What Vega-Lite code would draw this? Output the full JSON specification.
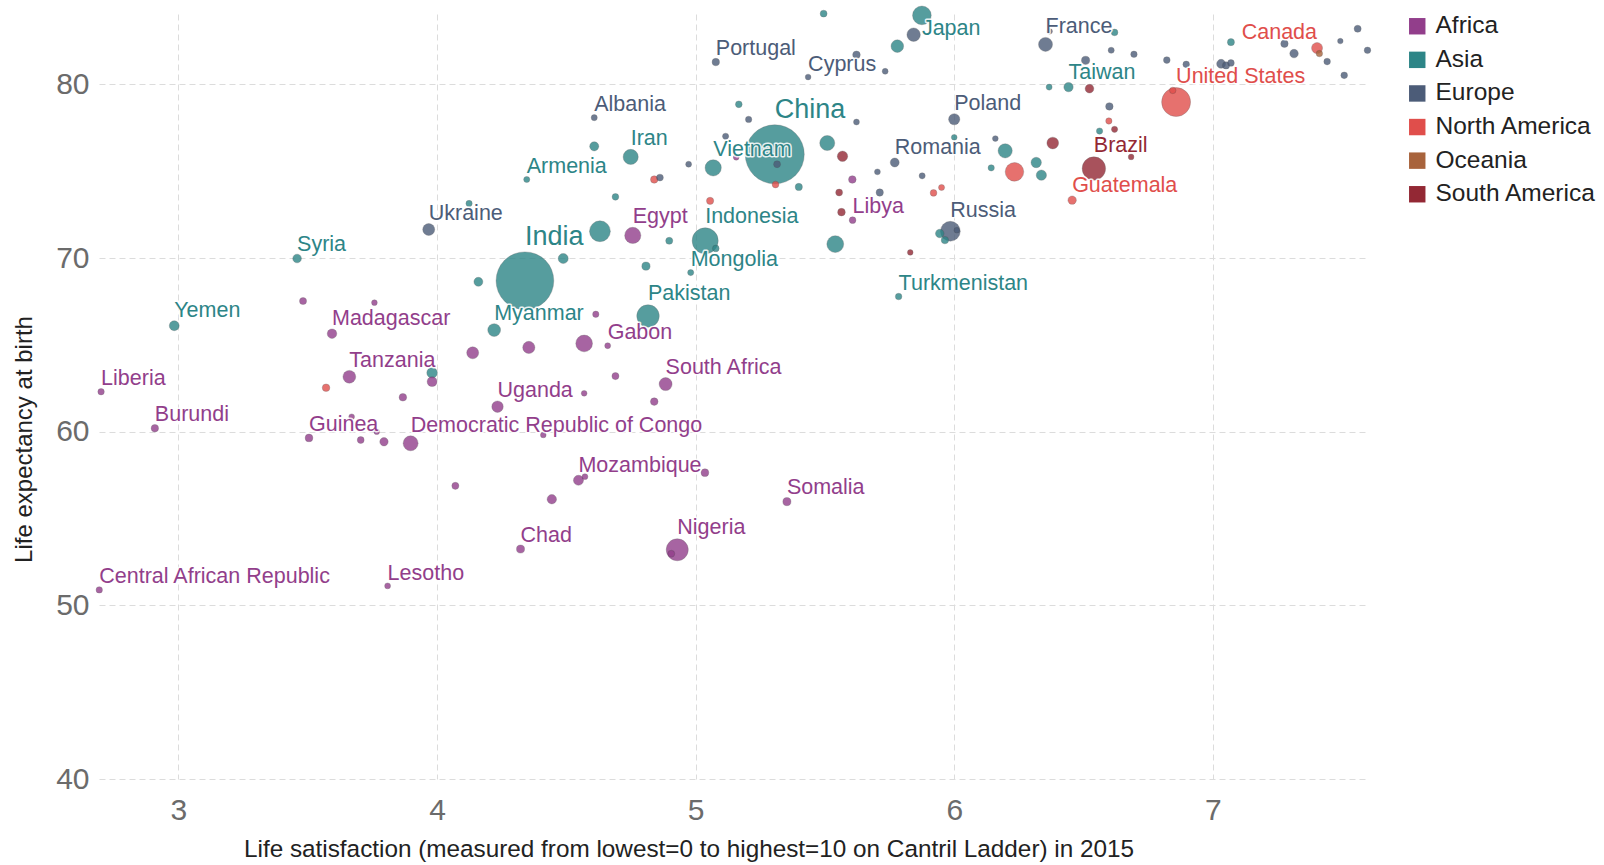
{
  "$schema": "https://vega.github.io/schema/vega-lite/v6.json",
  "width": 1269,
  "height": 765,
  "autosize": {"type": "none"},
  "padding": {"left": 99, "top": 14, "right": 236, "bottom": 86},
  "background": "white",
  "config": {"font": "Liberation Sans", "view": {"stroke": null}},
  "data": {"values": [
    {"country": "Central African Republic", "continent": "Africa", "ls": 2.694, "le": 50.89, "population": 4.5, "label": "Central African Republic"},
    {"country": "Liberia", "continent": "Africa", "ls": 2.701, "le": 62.30, "population": 4.5, "label": "Liberia"},
    {"country": "Burundi", "continent": "Africa", "ls": 2.909, "le": 60.20, "population": 10, "label": "Burundi"},
    {"country": "Guinea", "continent": "Africa", "ls": 3.505, "le": 59.64, "population": 12, "label": "Guinea"},
    {"country": "Madagascar", "continent": "Africa", "ls": 3.594, "le": 65.64, "population": 24, "label": "Madagascar"},
    {"country": "Tanzania", "continent": "Africa", "ls": 3.661, "le": 63.16, "population": 53, "label": "Tanzania"},
    {"country": "Democratic Republic of Congo", "continent": "Africa", "ls": 3.898, "le": 59.33, "population": 77, "label": "Democratic Republic of Congo"},
    {"country": "Lesotho", "continent": "Africa", "ls": 3.809, "le": 51.12, "population": 2, "label": "Lesotho"},
    {"country": "Chad", "continent": "Africa", "ls": 4.323, "le": 53.24, "population": 14, "label": "Chad"},
    {"country": "Uganda", "continent": "Africa", "ls": 4.234, "le": 61.44, "population": 40, "label": "Uganda"},
    {"country": "Mozambique", "continent": "Africa", "ls": 4.547, "le": 57.20, "population": 28, "label": "Mozambique"},
    {"country": "Gabon", "continent": "Africa", "ls": 4.66, "le": 64.95, "population": 2, "label": "Gabon"},
    {"country": "Egypt", "continent": "Africa", "ls": 4.757, "le": 71.30, "population": 92, "label": "Egypt"},
    {"country": "South Africa", "continent": "Africa", "ls": 4.884, "le": 62.74, "population": 55, "label": "South Africa"},
    {"country": "Nigeria", "continent": "Africa", "ls": 4.929, "le": 53.20, "population": 181, "label": "Nigeria"},
    {"country": "Somalia", "continent": "Africa", "ls": 5.353, "le": 55.97, "population": 14, "label": "Somalia"},
    {"country": "Libya", "continent": "Africa", "ls": 5.607, "le": 72.18, "population": 6, "label": "Libya"},
    {"country": "Togo", "continent": "Africa", "ls": 3.482, "le": 67.52, "population": 8},
    {"country": "Comoros", "continent": "Africa", "ls": 3.758, "le": 67.43, "population": 1},
    {"country": "Sudan", "continent": "Africa", "ls": 4.138, "le": 64.54, "population": 45},
    {"country": "Kenya", "continent": "Africa", "ls": 4.355, "le": 64.85, "population": 47},
    {"country": "Ethiopia", "continent": "Africa", "ls": 4.569, "le": 65.08, "population": 99},
    {"country": "Mauritania", "continent": "Africa", "ls": 4.614, "le": 66.76, "population": 4},
    {"country": "Ghana", "continent": "Africa", "ls": 3.981, "le": 62.88, "population": 27},
    {"country": "Benin", "continent": "Africa", "ls": 3.868, "le": 61.98, "population": 11},
    {"country": "Sierra Leone", "continent": "Africa", "ls": 3.705, "le": 59.52, "population": 7},
    {"country": "Zambia", "continent": "Africa", "ls": 3.795, "le": 59.42, "population": 16},
    {"country": "Mali", "continent": "Africa", "ls": 4.071, "le": 56.88, "population": 8},
    {"country": "Cameroon", "continent": "Africa", "ls": 4.444, "le": 56.11, "population": 23},
    {"country": "Senegal", "continent": "Africa", "ls": 4.69, "le": 63.20, "population": 8},
    {"country": "Djibouti", "continent": "Africa", "ls": 4.569, "le": 62.21, "population": 1},
    {"country": "Zimbabwe", "continent": "Africa", "ls": 4.84, "le": 61.73, "population": 11},
    {"country": "Niger", "continent": "Africa", "ls": 5.036, "le": 57.64, "population": 12},
    {"country": "Botswana", "continent": "Africa", "ls": 4.572, "le": 57.41, "population": 2},
    {"country": "Guinea-Bissau", "continent": "Africa", "ls": 4.906, "le": 52.97, "population": 7},
    {"country": "Mauritius", "continent": "Africa", "ls": 5.157, "le": 75.80, "population": 1.3},
    {"country": "Congo", "continent": "Africa", "ls": 4.411, "le": 59.81, "population": 1},
    {"country": "Rwanda", "continent": "Africa", "ls": 3.67, "le": 60.86, "population": 1},
    {"country": "Burkina Faso", "continent": "Africa", "ls": 3.767, "le": 60.0, "population": 1},
    {"country": "Tunisia", "continent": "Africa", "ls": 5.606, "le": 74.52, "population": 11},
    {"country": "Yemen", "continent": "Asia", "ls": 2.984, "le": 66.10, "population": 27, "label": "Yemen"},
    {"country": "Syria", "continent": "Asia", "ls": 3.459, "le": 69.97, "population": 18, "label": "Syria"},
    {"country": "Armenia", "continent": "Asia", "ls": 4.347, "le": 74.52, "population": 3, "label": "Armenia"},
    {"country": "India", "continent": "Asia", "ls": 4.34, "le": 68.69, "population": 1311, "label": "India"},
    {"country": "Myanmar", "continent": "Asia", "ls": 4.221, "le": 65.85, "population": 53, "label": "Myanmar"},
    {"country": "Pakistan", "continent": "Asia", "ls": 4.816, "le": 66.66, "population": 189, "label": "Pakistan"},
    {"country": "Iran", "continent": "Asia", "ls": 4.749, "le": 75.82, "population": 79, "label": "Iran"},
    {"country": "Indonesia", "continent": "Asia", "ls": 5.037, "le": 70.99, "population": 258, "label": "Indonesia"},
    {"country": "Mongolia", "continent": "Asia", "ls": 4.981, "le": 69.16, "population": 3, "label": "Mongolia"},
    {"country": "Vietnam", "continent": "Asia", "ls": 5.068, "le": 75.19, "population": 93, "label": "Vietnam"},
    {"country": "China", "continent": "Asia", "ls": 5.306, "le": 75.97, "population": 1371, "label": "China"},
    {"country": "Japan", "continent": "Asia", "ls": 5.875, "le": 83.97, "population": 127, "label": "Japan"},
    {"country": "Taiwan", "continent": "Asia", "ls": 6.442, "le": 79.84, "population": 23, "label": "Taiwan"},
    {"country": "Turkmenistan", "continent": "Asia", "ls": 5.785, "le": 67.78, "population": 5, "label": "Turkmenistan"},
    {"country": "Hong Kong", "continent": "Asia", "ls": 5.495, "le": 84.07, "population": 7},
    {"country": "South Korea", "continent": "Asia", "ls": 5.78, "le": 82.20, "population": 51},
    {"country": "Singapore", "continent": "Asia", "ls": 6.62, "le": 82.99, "population": 5.6},
    {"country": "Israel", "continent": "Asia", "ls": 7.07, "le": 82.43, "population": 8},
    {"country": "Qatar", "continent": "Asia", "ls": 6.367, "le": 79.84, "population": 2.5},
    {"country": "Kuwait", "continent": "Asia", "ls": 6.562, "le": 77.31, "population": 4},
    {"country": "Thailand", "continent": "Asia", "ls": 6.197, "le": 76.17, "population": 68},
    {"country": "Oman", "continent": "Asia", "ls": 6.143, "le": 75.19, "population": 4},
    {"country": "Bahrain", "continent": "Asia", "ls": 6.0, "le": 76.95, "population": 1.4},
    {"country": "Malaysia", "continent": "Asia", "ls": 6.317, "le": 75.50, "population": 31},
    {"country": "Uzbekistan", "continent": "Asia", "ls": 6.337, "le": 74.77, "population": 30},
    {"country": "Kazakhstan", "continent": "Asia", "ls": 5.944, "le": 71.41, "population": 17},
    {"country": "Azerbaijan", "continent": "Asia", "ls": 5.964, "le": 71.03, "population": 10},
    {"country": "Philippines", "continent": "Asia", "ls": 5.54, "le": 70.80, "population": 101},
    {"country": "Turkey", "continent": "Asia", "ls": 5.509, "le": 76.62, "population": 78},
    {"country": "Jordan", "continent": "Asia", "ls": 5.399, "le": 74.09, "population": 9},
    {"country": "Lebanon", "continent": "Asia", "ls": 5.167, "le": 78.85, "population": 6},
    {"country": "Sri Lanka", "continent": "Asia", "ls": 4.608, "le": 76.43, "population": 21},
    {"country": "Kyrgyzstan", "continent": "Asia", "ls": 4.69, "le": 73.52, "population": 6},
    {"country": "Bangladesh", "continent": "Asia", "ls": 4.63, "le": 71.54, "population": 161},
    {"country": "Tajikistan", "continent": "Asia", "ls": 4.898, "le": 70.99, "population": 8},
    {"country": "Nepal", "continent": "Asia", "ls": 4.488, "le": 69.97, "population": 28},
    {"country": "Cambodia", "continent": "Asia", "ls": 4.808, "le": 69.53, "population": 15},
    {"country": "Iraq", "continent": "Asia", "ls": 4.16, "le": 68.63, "population": 20},
    {"country": "Georgia", "continent": "Asia", "ls": 4.124, "le": 73.14, "population": 3.7},
    {"country": "Afghanistan", "continent": "Asia", "ls": 3.981, "le": 63.39, "population": 33},
    {"country": "Laos", "continent": "Asia", "ls": 5.078, "le": 70.55, "population": 6},
    {"country": "Ukraine", "continent": "Europe", "ls": 3.968, "le": 71.64, "population": 45, "label": "Ukraine"},
    {"country": "Albania", "continent": "Europe", "ls": 4.608, "le": 78.08, "population": 2.9, "label": "Albania"},
    {"country": "Portugal", "continent": "Europe", "ls": 5.078, "le": 81.28, "population": 10.4, "label": "Portugal"},
    {"country": "Cyprus", "continent": "Europe", "ls": 5.435, "le": 80.42, "population": 1.2, "label": "Cyprus"},
    {"country": "France", "continent": "Europe", "ls": 6.353, "le": 82.30, "population": 66, "label": "France"},
    {"country": "Poland", "continent": "Europe", "ls": 6.0, "le": 77.99, "population": 38, "label": "Poland"},
    {"country": "Romania", "continent": "Europe", "ls": 5.77, "le": 75.50, "population": 20, "label": "Romania"},
    {"country": "Russia", "continent": "Europe", "ls": 5.985, "le": 71.54, "population": 144, "label": "Russia"},
    {"country": "Italy", "continent": "Europe", "ls": 5.843, "le": 82.86, "population": 60},
    {"country": "Greece", "continent": "Europe", "ls": 5.622, "le": 81.70, "population": 11},
    {"country": "Slovenia", "continent": "Europe", "ls": 5.733, "le": 80.75, "population": 2},
    {"country": "Malta", "continent": "Europe", "ls": 6.369, "le": 83.05, "population": 0.4},
    {"country": "Luxembourg", "continent": "Europe", "ls": 6.607, "le": 81.96, "population": 3},
    {"country": "Ireland", "continent": "Europe", "ls": 6.695, "le": 81.73, "population": 4.7},
    {"country": "United Kingdom", "continent": "Europe", "ls": 6.822, "le": 81.40, "population": 6},
    {"country": "Slovakia", "continent": "Europe", "ls": 6.897, "le": 81.15, "population": 5.4},
    {"country": "Spain", "continent": "Europe", "ls": 6.508, "le": 81.38, "population": 15},
    {"country": "Germany", "continent": "Europe", "ls": 7.032, "le": 81.18, "population": 20},
    {"country": "Austria", "continent": "Europe", "ls": 7.051, "le": 81.09, "population": 9},
    {"country": "Belgium", "continent": "Europe", "ls": 7.07, "le": 81.23, "population": 6},
    {"country": "Sweden", "continent": "Europe", "ls": 7.277, "le": 82.34, "population": 10},
    {"country": "Netherlands", "continent": "Europe", "ls": 7.314, "le": 81.77, "population": 17},
    {"country": "Finland", "continent": "Europe", "ls": 7.442, "le": 81.31, "population": 5.5},
    {"country": "Iceland", "continent": "Europe", "ls": 7.493, "le": 82.49, "population": 0.3},
    {"country": "Switzerland", "continent": "Europe", "ls": 7.56, "le": 83.20, "population": 8},
    {"country": "Norway", "continent": "Europe", "ls": 7.598, "le": 81.96, "population": 5.2},
    {"country": "Denmark", "continent": "Europe", "ls": 7.508, "le": 80.52, "population": 5.7},
    {"country": "Czech Republic", "continent": "Europe", "ls": 6.60, "le": 78.73, "population": 10.5},
    {"country": "Estonia", "continent": "Europe", "ls": 6.159, "le": 76.88, "population": 1.3},
    {"country": "Croatia", "continent": "Europe", "ls": 5.205, "le": 77.98, "population": 4.2},
    {"country": "Montenegro", "continent": "Europe", "ls": 5.622, "le": 77.83, "population": 2},
    {"country": "Bosnia and Herzegovina", "continent": "Europe", "ls": 5.116, "le": 77.01, "population": 3.5},
    {"country": "Macedonia", "continent": "Europe", "ls": 4.973, "le": 75.40, "population": 2},
    {"country": "Bulgaria", "continent": "Europe", "ls": 4.862, "le": 74.63, "population": 7},
    {"country": "Serbia", "continent": "Europe", "ls": 5.315, "le": 75.40, "population": 7},
    {"country": "Latvia", "continent": "Europe", "ls": 5.703, "le": 74.96, "population": 2},
    {"country": "Lithuania", "continent": "Europe", "ls": 5.876, "le": 74.73, "population": 3},
    {"country": "Belarus", "continent": "Europe", "ls": 5.712, "le": 73.77, "population": 9.5},
    {"country": "Moldova", "continent": "Europe", "ls": 6.01, "le": 71.60, "population": 1},
    {"country": "Canada", "continent": "North America", "ls": 7.403, "le": 82.09, "population": 36, "label": "Canada"},
    {"country": "United States", "continent": "North America", "ls": 6.858, "le": 78.98, "population": 321, "label": "United States"},
    {"country": "Guatemala", "continent": "North America", "ls": 6.456, "le": 73.33, "population": 16, "label": "Guatemala"},
    {"country": "Mexico", "continent": "North America", "ls": 6.233, "le": 74.96, "population": 125},
    {"country": "Costa Rica", "continent": "North America", "ls": 6.845, "le": 79.65, "population": 4.8},
    {"country": "Panama", "continent": "North America", "ls": 6.598, "le": 77.89, "population": 4},
    {"country": "Nicaragua", "continent": "North America", "ls": 5.92, "le": 73.75, "population": 6},
    {"country": "Jamaica", "continent": "North America", "ls": 5.951, "le": 74.06, "population": 2.8},
    {"country": "Honduras", "continent": "North America", "ls": 5.056, "le": 73.29, "population": 9},
    {"country": "Dominican Republic", "continent": "North America", "ls": 4.84, "le": 74.52, "population": 10},
    {"country": "El Salvador", "continent": "North America", "ls": 5.309, "le": 74.23, "population": 6.3},
    {"country": "Haiti", "continent": "North America", "ls": 3.571, "le": 62.53, "population": 11},
    {"country": "Brazil", "continent": "South America", "ls": 6.54, "le": 75.15, "population": 206, "label": "Brazil"},
    {"country": "Chile", "continent": "South America", "ls": 6.523, "le": 79.75, "population": 18},
    {"country": "Uruguay", "continent": "South America", "ls": 6.62, "le": 77.41, "population": 3.4},
    {"country": "Argentina", "continent": "South America", "ls": 6.381, "le": 76.62, "population": 43},
    {"country": "Peru", "continent": "South America", "ls": 5.568, "le": 75.86, "population": 31},
    {"country": "Paraguay", "continent": "South America", "ls": 5.555, "le": 73.77, "population": 7},
    {"country": "Bolivia", "continent": "South America", "ls": 5.564, "le": 72.64, "population": 11},
    {"country": "Guyana", "continent": "South America", "ls": 5.83, "le": 70.32, "population": 0.8},
    {"country": "Suriname", "continent": "South America", "ls": 6.684, "le": 75.82, "population": 1},
    {"country": "New Zealand", "continent": "Oceania", "ls": 7.412, "le": 81.77, "population": 4.6}
  ]},
  "encoding": {
    "x": {
      "field": "ls", "type": "quantitative",
      "scale": {"domain": [2.693, 7.6], "nice": false, "zero": false},
      "axis": {
        "title": "Life satisfaction (measured from lowest=0 to highest=10 on Cantril Ladder) in 2015",
        "values": [3, 4, 5, 6, 7],
        "grid": true, "gridColor": "#dcdcdc", "gridDash": [6, 4], "gridWidth": 1,
        "domain": false, "ticks": false, "tickSize": 0,
        "labelFontSize": 30, "labelColor": "#6b6b6b", "labelBaseline": "alphabetic", "labelPadding": 40,
        "titleFontSize": 24.3, "titleFontWeight": "normal", "titleColor": "#222222",
        "titleX": 589.5, "titleY": 77.6, "titleBaseline": "alphabetic", "titleAlign": "center"
      }
    },
    "y": {
      "field": "le", "type": "quantitative",
      "scale": {"domain": [40, 84.05], "nice": false, "zero": false},
      "axis": {
        "title": "Life expectancy at birth",
        "values": [40, 50, 60, 70, 80],
        "grid": true, "gridColor": "#dcdcdc", "gridDash": [6, 4], "gridWidth": 1,
        "domain": false, "ticks": false, "tickSize": 0,
        "labelFontSize": 30, "labelColor": "#6b6b6b", "labelPadding": 10,
        "titleFontSize": 24, "titleFontWeight": "normal", "titleColor": "#222222",
        "titleAngle": -90, "titleX": -68, "titleY": 425, "titleBaseline": "alphabetic", "titleAlign": "center"
      }
    }
  },
  "layer": [
    {
      "mark": {"type": "circle", "opacity": 0.8, "stroke": "#444444", "strokeWidth": 0.6, "strokeOpacity": 0.5},
      "encoding": {
        "size": {"field": "population", "type": "quantitative", "scale": {"domain": [0, 1371], "range": [30, 3484]}, "legend": null},
        "color": {
          "field": "continent", "type": "nominal",
          "scale": {
            "domain": ["Africa", "Asia", "Europe", "North America", "Oceania", "South America"],
            "range": ["#923E8B", "#2D8587", "#4C5C78", "#E04E4B", "#A8633C", "#932834"]
          },
          "legend": {
            "orient": "none", "legendX": 1306, "legendY": 0, "title": null,
            "symbolType": "square", "symbolSize": 270, "symbolOpacity": 1, "symbolStrokeWidth": 0,
            "labelFontSize": 24.5, "labelColor": "#222222", "labelOffset": 6, "labelLimit": 400, "rowPadding": 8.6, "padding": 0
          }
        },
        "order": {"field": "population", "sort": "descending"}
      }
    },
    {
      "transform": [{"filter": "isValid(datum.label)"}],
      "mark": {
        "type": "text", "baseline": "alphabetic",
        "align": {"expr": "datum.country == 'Canada' ? 'right' : 'left'"},
        "dy": {"expr": "datum.country == 'Japan' ? 20 : -(sqrt((30 + 2.519 * datum.population) / PI) + 3)"},
        "fontSize": {"expr": "datum.population > 1000 ? 27 : 21.5"},
        "fill": "white", "stroke": "white", "strokeWidth": 3, "strokeOpacity": 0.85, "strokeJoin": "round"
      },
      "encoding": {"text": {"field": "label"}}
    },
    {
      "transform": [{"filter": "isValid(datum.label)"}],
      "mark": {
        "type": "text", "baseline": "alphabetic",
        "align": {"expr": "datum.country == 'Canada' ? 'right' : 'left'"},
        "dy": {"expr": "datum.country == 'Japan' ? 20 : -(sqrt((30 + 2.519 * datum.population) / PI) + 3)"},
        "fontSize": {"expr": "datum.population > 1000 ? 27 : 21.5"}
      },
      "encoding": {
        "text": {"field": "label"},
        "color": {"field": "continent", "type": "nominal"}
      }
    }
  ]
}
